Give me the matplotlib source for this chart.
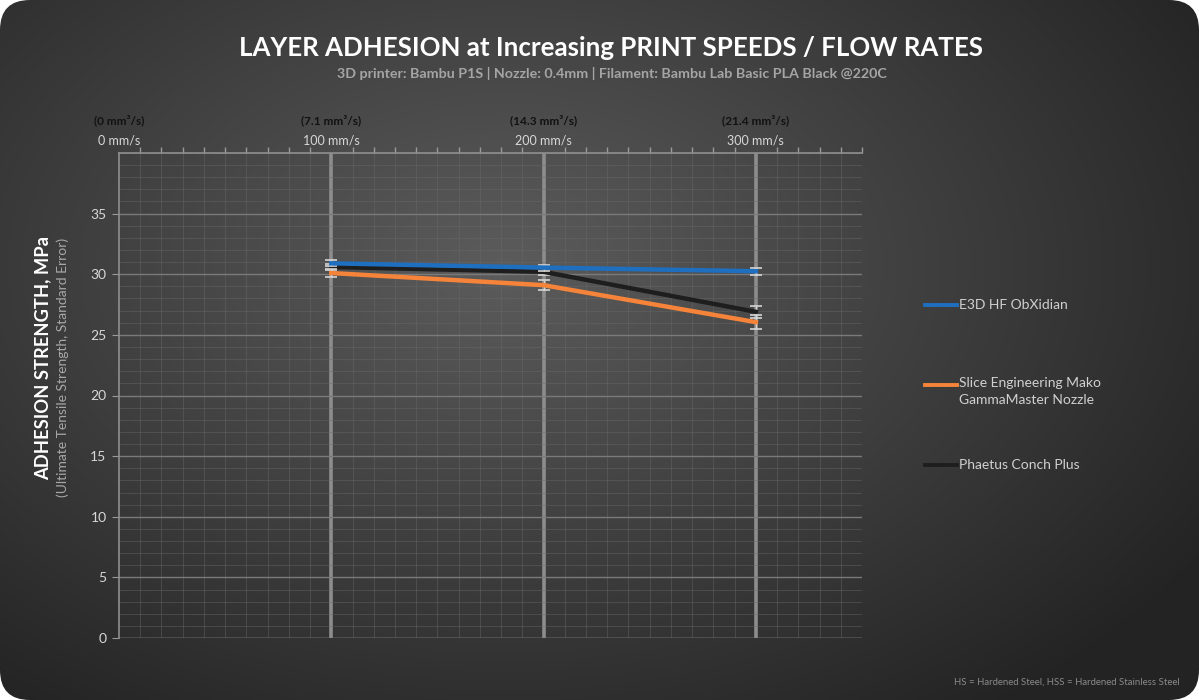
import numpy as np
import matplotlib.pyplot as plt
from matplotlib.patches import FancyBboxPatch
from matplotlib.lines import Line2D
from matplotlib.ticker import MultipleLocator, FixedLocator

plt.rcParams['font.family'] = ['Lato', 'DejaVu Sans']

speeds = [100, 200, 300]
top_ticks = [0, 100, 200, 300]
speed_labels = ['0 mm/s', '100 mm/s', '200 mm/s', '300 mm/s']
flow_labels = ['(0 mm³/s)', '(7.1 mm³/s)', '(14.3 mm³/s)', '(21.4 mm³/s)']

names = ['E3D HF ObXidian', 'Slice Engineering Mako\nGammaMaster Nozzle', 'Phaetus Conch Plus']
colors = ['#1f6fc0', '#f5843a', '#1e1e1e']
strength = [
    [30.9, 30.55, 30.25],
    [30.1, 29.1, 26.05],
    [30.6, 30.2, 26.9],
]
errors = [
    [0.25, 0.25, 0.3],
    [0.3, 0.4, 0.55],
    [0.25, 0.3, 0.5],
]

fig = plt.figure(figsize=(11.99, 7.0), dpi=100)
fig.patch.set_facecolor('white')

# background panel with radial gradient and rounded corners
bg = fig.add_axes([0, 0, 1, 1], zorder=-10)
bg.set_xlim(0, 1)
bg.set_ylim(0, 1)
bg.axis('off')
gx, gy = np.meshgrid(np.linspace(0, 1, 600), np.linspace(0, 1, 350))
r = np.sqrt(((gx - 0.42) / 0.75) ** 2 + ((gy - 0.62) / 0.85) ** 2)
shade = np.clip(0.36 - 0.24 * r, 0.14, 0.36)
img = np.dstack([shade, shade, shade])
im = bg.imshow(img, extent=[0, 1, 0, 1], origin='lower', aspect='auto')
panel = FancyBboxPatch((0.0, 0.0), 1.0, 1.0, boxstyle='round,pad=0,rounding_size=0.025',
                       transform=bg.transAxes, facecolor='none', edgecolor='none',
                       mutation_aspect=1199 / 700)
bg.add_patch(panel)
im.set_clip_path(panel)

ax = fig.add_axes([119 / 1199, 1 - 638 / 700, (862 - 119) / 1199, (638 - 153) / 700])
ax.set_facecolor('none')
ax.set_xlim(0, 350)
ax.set_ylim(0, 40)

ax.xaxis.set_major_locator(FixedLocator(top_ticks))
ax.xaxis.set_minor_locator(MultipleLocator(10))
ax.yaxis.set_major_locator(MultipleLocator(5))
ax.yaxis.set_minor_locator(MultipleLocator(1))
ax.xaxis.tick_top()
ax.set_xticklabels(speed_labels)
ax.tick_params(axis='x', which='both', top=True, bottom=False, direction='in',
               colors='#9a9a9a', labelcolor='#d8d8d8', labelsize=9, length=0, pad=5)
ax.tick_params(axis='x', which='minor', length=4, direction='out', width=1)
ax.tick_params(axis='y', which='major', length=5, color='#9a9a9a', labelcolor='#d8d8d8',
               labelsize=10, pad=4)
ax.tick_params(axis='y', which='minor', length=0)
ax.set_yticks([0, 5, 10, 15, 20, 25, 30, 35])

for s in ['right', 'bottom']:
    ax.spines[s].set_visible(False)
for s in ['left', 'top']:
    ax.spines[s].set_color('#8f8f8f')
    ax.spines[s].set_linewidth(1.2)

ax.grid(which='minor', color='#6a6a6a', linewidth=0.6, alpha=0.5)
ax.grid(axis='y', which='major', color='#7a7a7a', linewidth=1.0)
ax.axhline(0, color='#8a8a8a', linewidth=1.0)
for x in speeds:
    ax.axvline(x, color='#8d8d8d', linewidth=2.6, zorder=1)

for lab, x in zip(flow_labels, top_ticks):
    ax.text(x, 1.056, lab, transform=ax.get_xaxis_transform(), ha='center', va='bottom',
            fontsize=8.6, fontweight='bold', color='#121212')

order = [2, 1, 0]
for i in order:
    ax.errorbar(speeds, strength[i], yerr=errors[i], color=colors[i], linewidth=3.2,
                ecolor='#d5d5d5', elinewidth=1.0, capsize=4, capthick=1.2, zorder=3 + (2 - i))

fig.text(611 / 1199, 0.931, 'LAYER ADHESION at Increasing PRINT SPEEDS / FLOW RATES', ha='center',
         va='center', fontsize=18.6, fontweight='bold', color='white')
fig.text(612 / 1199, 0.895, '3D printer: Bambu P1S | Nozzle: 0.4mm | Filament: Bambu Lab Basic PLA Black @220C',
         ha='center', va='center', fontsize=10.3, fontweight='bold', color='#a5a5a5')

fig.text(43 / 1199, 1 - 358 / 700, 'ADHESION STRENGTH, MPa', rotation=90, ha='center', va='center',
         fontsize=13.2, fontweight='bold', color='white')
fig.text(63 / 1199, 1 - 367 / 700, '(Ultimate Tensile Strength, Standard Error)', rotation=90,
         ha='center', va='center', fontsize=10, color='#a8a8a8')

legend_y = [305, 385, 465]
for i in range(3):
    y = 1 - legend_y[i] / 700
    fig.add_artist(Line2D([925 / 1199, 957 / 1199], [y, y], color=colors[i], linewidth=2.8))
    multi = '\n' in names[i]
    fig.text(959 / 1199, y + (8 / 700 if multi else 0), names[i], ha='left',
             va='top' if multi else 'center', fontsize=10, color='#d0d0d0', linespacing=1.5)

fig.text(1180 / 1199, 1 - 682 / 700, 'HS = Hardened Steel, HSS = Hardened Stainless Steel',
         ha='right', va='center', fontsize=6.9, color='#8a8a8a')

fig.savefig('out.png', dpi=100, facecolor=fig.get_facecolor())
